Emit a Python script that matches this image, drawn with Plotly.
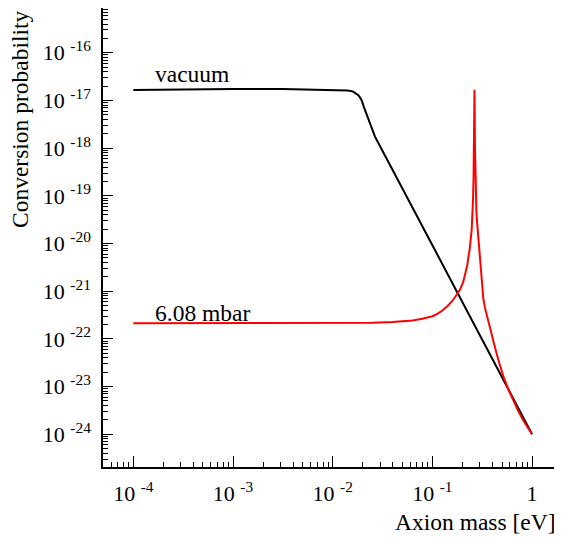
import plotly.graph_objects as go

# ---- data ----
# log10 of axion mass [eV] and log10 of conversion probability
vac_logm = [-4.0, -3.5, -3.0, -2.5, -2.2, -2.0, -1.9, -1.85, -1.80, -1.77, -1.743,
            -1.725, -1.709, -1.685, -1.659, -1.634, -1.609, -1.59, -1.576, -1.55,
            -1.5, -1.0, -0.5, 0.0]
vac_logp = [-16.782, -16.765, -16.758, -16.760, -16.768, -16.775, -16.783, -16.79,
            -16.81, -16.845, -16.89, -16.94, -17.0, -17.15, -17.30, -17.46, -17.60,
            -17.70, -17.76, -17.86, -18.056, -20.036, -22.016, -24.0]

gas_logm = [-4.0, -3.0, -2.0, -1.6, -1.4, -1.3, -1.2, -1.1, -1.0, -0.95, -0.9, -0.85,
            -0.80, -0.76, -0.72, -0.69, -0.67, -0.65, -0.64, -0.625, -0.606, -0.598,
            -0.592, -0.587, -0.583, -0.5805, -0.579, -0.578, -0.577, -0.5755, -0.573,
            -0.569, -0.5657, -0.562, -0.558, -0.552, -0.5456, -0.535, -0.5226, -0.5126,
            -0.505, -0.4975, -0.4895, -0.4724, -0.455, -0.4393, -0.41, -0.372, -0.33,
            -0.289, -0.24, -0.189, -0.14, -0.088, -0.044, 0.0]
gas_logp = [-21.671, -21.671, -21.668, -21.660, -21.648, -21.635, -21.612, -21.578,
            -21.525, -21.475, -21.405, -21.315, -21.205, -21.085, -20.955, -20.80,
            -20.64, -20.45, -20.30, -20.10, -19.713, -19.40, -19.05, -18.6, -18.0,
            -17.4, -16.95, -16.775, -16.95, -17.4, -18.0, -18.6, -19.014, -19.19,
            -19.35, -19.54, -19.713, -20.05, -20.38, -20.60, -20.80, -20.97, -21.15,
            -21.35, -21.50, -21.62, -21.87, -22.18, -22.50, -22.78, -23.05, -23.29,
            -23.51, -23.71, -23.87, -24.0]

xtick_vals = [1e-4, 1e-3, 1e-2, 1e-1, 1]
xtick_text = ["10 <sup>-4</sup>", "10 <sup>-3</sup>", "10 <sup>-2</sup>", "10 <sup>-1</sup>", "1"]
ytick_exps = [-24, -23, -22, -21, -20, -19, -18, -17, -16]
ytick_text = ["10 <sup>%d</sup>" % e for e in ytick_exps]

series_names = ["vacuum", "6.08 mbar"]

FONT = "Liberation Serif"

vac_m = [10 ** v for v in vac_logm]
vac_p = [10 ** v for v in vac_logp]
gas_m = [10 ** v for v in gas_logm]
gas_p = [10 ** v for v in gas_logp]

fig = go.Figure()
fig.add_trace(go.Scatter(x=vac_m, y=vac_p, mode="lines", name=series_names[0],
                         line=dict(color="black", width=2)))
fig.add_trace(go.Scatter(x=gas_m, y=gas_p, mode="lines", name=series_names[1],
                         line=dict(color="#ff0000", width=2)))

minor_x = [d * 10 ** e for e in range(-5, 1) for d in range(2, 10)]
minor_y = [d * 10 ** e for e in range(-25, -14) for d in range(2, 10)]

fig.update_xaxes(type="log", range=[-4.304, 0.300], automargin=False,
                 showgrid=False, zeroline=False,
                 showline=True, linecolor="black", linewidth=1.5, mirror=True,
                 ticks="inside", ticklen=11, tickwidth=1, tickcolor="black",
                 tickmode="array", tickvals=xtick_vals, ticktext=xtick_text,
                 ticklabelstandoff=6,
                 tickfont=dict(family=FONT, size=22, color="black"),
                 minor=dict(ticks="inside", ticklen=5, tickwidth=1, tickcolor="black",
                            tickmode="array", tickvals=minor_x, showgrid=False))
fig.update_yaxes(type="log", range=[-24.686, -15.062], automargin=False,
                 showgrid=False, zeroline=False,
                 showline=True, linecolor="black", linewidth=1.5, mirror=False,
                 ticks="inside", ticklen=10, tickwidth=1, tickcolor="black",
                 tickmode="array", tickvals=[10 ** e for e in ytick_exps], ticktext=ytick_text,
                 ticklabelstandoff=6,
                 tickfont=dict(family=FONT, size=22, color="black"),
                 minor=dict(ticks="inside", ticklen=5, tickwidth=1, tickcolor="black",
                            tickmode="array", tickvals=minor_y, showgrid=False))

# the page body adds an 8px offset, so the figure is laid out 8px smaller
annotations = [
    dict(text=series_names[0], x=-3.80, y=-16.44, xref="x", yref="y",
         xanchor="left", yanchor="middle", showarrow=False,
         font=dict(family=FONT, size=23.5, color="black")),
    dict(text=series_names[1], x=-3.80, y=-21.454, xref="x", yref="y",
         xanchor="left", yanchor="middle", showarrow=False,
         font=dict(family=FONT, size=23.5, color="black")),
    dict(text="Axion mass [eV]", x=1.0 - 4 / 459, y=-55 / 459, xref="paper", yref="paper",
         xanchor="right", yanchor="middle", showarrow=False,
         font=dict(family=FONT, size=23.5, color="black")),
    dict(text="Conversion probability", x=-83 / 459, y=(467 - 119) / 459, xref="paper",
         yref="paper", xanchor="center", yanchor="middle", showarrow=False, textangle=-90,
         font=dict(family=FONT, size=23.5, color="black")),
]

fig.update_layout(width=554, height=530,
                  margin=dict(l=95, r=0, t=0, b=71),
                  paper_bgcolor="white", plot_bgcolor="white",
                  showlegend=False, annotations=annotations)

fig.write_html("out.html")
